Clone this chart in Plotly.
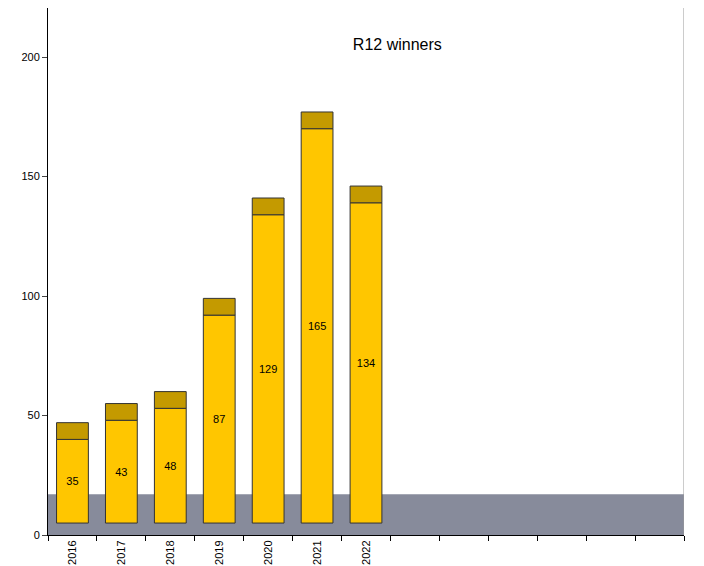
import plotly.graph_objects as go

years = ["2016", "2017", "2018", "2019", "2020", "2021", "2022"]
winners = [35, 43, 48, 87, 129, 165, 134]
cap = [7, 7, 7, 7, 7, 7, 7]
n_slots = 13
base = 5
floor_h = 17

xs = list(range(len(years)))

fig = go.Figure()
fig.add_trace(go.Bar(
    x=xs, y=winners, base=base, width=0.65,
    marker=dict(color="#ffc600", line=dict(color="#333333", width=1)),
    text=[str(v) for v in winners], textposition="inside", insidetextanchor="middle",
    textfont=dict(color="black", size=11, family="Arial"), showlegend=False,
))
fig.add_trace(go.Bar(
    x=xs, y=cap, base=[base + v for v in winners], width=0.65,
    marker=dict(color="#c49a00", line=dict(color="#333333", width=1)),
    showlegend=False, hoverinfo="skip",
))
fig.add_shape(type="rect", xref="x", yref="y", x0=-0.5, x1=n_slots - 0.5, y0=0, y1=floor_h,
              fillcolor="#878b9b", line=dict(width=0), layer="below")
fig.add_shape(type="line", xref="x", yref="paper", x0=n_slots - 0.5, x1=n_slots - 0.5, y0=0, y1=1,
              line=dict(color="#999999", width=1))

fig.update_layout(
    width=704, height=566, margin=dict(l=40, r=28, t=0, b=39),
    paper_bgcolor="white", plot_bgcolor="white", barmode="overlay",
    font=dict(family="Arial", size=11, color="black"),
    title=dict(text="R12 winners", x=0.553, y=0.945, xanchor="center",
               font=dict(size=16, family="Arial")),
    xaxis=dict(range=[-0.5, n_slots - 0.5], tickvals=xs, ticktext=years, tickangle=-90,
               ticks="", showgrid=False, zeroline=False, showline=True, linecolor="black",
               automargin=False,
               minor=dict(tickvals=[i - 0.5 for i in range(n_slots + 1)], ticks="outside",
                          ticklen=5, tickcolor="black")),
    yaxis=dict(range=[0, 220.5], tickvals=[0, 50, 100, 150, 200], ticks="outside", ticklen=5,
               showgrid=False, zeroline=False, showline=True, linecolor="black",
               automargin=False),
)
fig.write_html("out.html")
